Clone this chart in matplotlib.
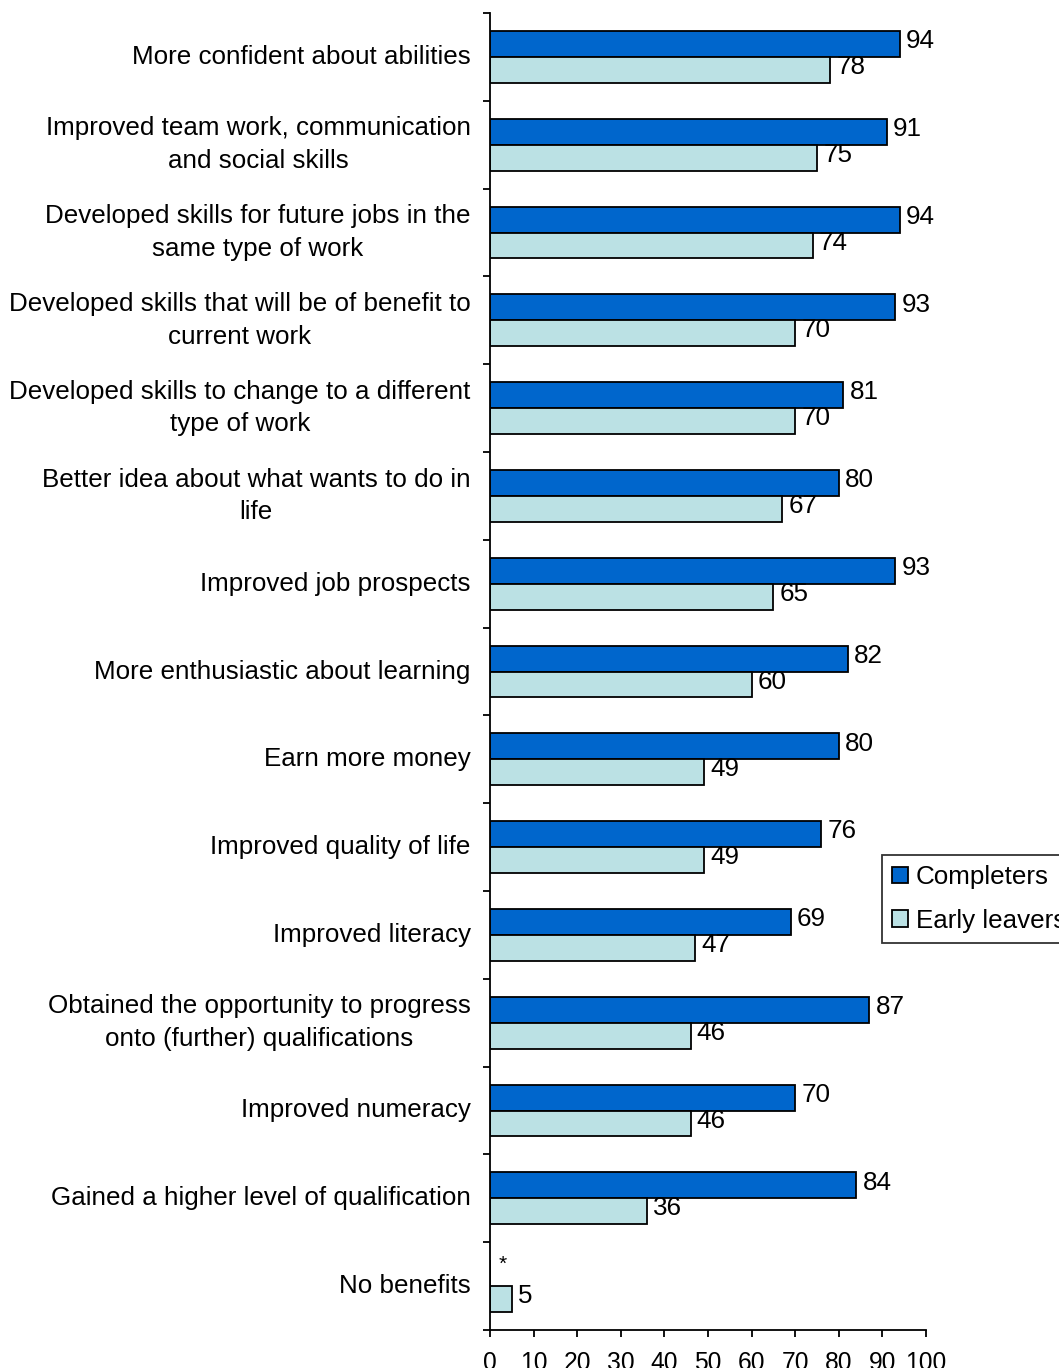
import matplotlib.pyplot as plt
import numpy as np

plt.rcParams['font.family'] = ['Liberation Sans', 'DejaVu Sans']

# Benefits reported by learners (%)
categories = [
    "More confident about abilities",
    "Improved team work, communication\nand social skills",
    "Developed skills for future jobs in the\nsame type of work",
    "Developed skills that will be of benefit to\ncurrent work",
    "Developed skills to change to a different\ntype of work",
    "Better idea about what wants to do in\nlife",
    "Improved job prospects",
    "More enthusiastic about learning",
    "Earn more money",
    "Improved quality of life",
    "Improved literacy",
    "Obtained the opportunity to progress\nonto (further) qualifications",
    "Improved numeracy",
    "Gained a higher level of qualification",
    "No benefits",
]
completers = [94, 91, 94, 93, 81, 80, 93, 82, 80, 76, 69, 87, 70, 84, 0]
early_leavers = [78, 75, 74, 70, 70, 67, 65, 60, 49, 49, 47, 46, 46, 36, 5]
completer_labels = ["94", "91", "94", "93", "81", "80", "93", "82", "80", "76", "69", "87", "70", "84", "*"]
leaver_labels = [str(v) for v in early_leavers]

blue = "#0066CC"
light = "#BBE1E4"
fs = 18.7

fig = plt.figure(figsize=(10.59, 13.68), dpi=100)
ax = fig.add_axes([490 / 1059, 1 - 1330 / 1368, 436 / 1059, 1317 / 1368])

n = len(categories)
y = np.arange(n)
h = 0.295

ax.barh(y - h / 2, completers, height=h, color=blue, edgecolor="black", linewidth=1.3, label="Completers")
ax.barh(y + h / 2, early_leavers, height=h, color=light, edgecolor="black", linewidth=1.3, label="Early leavers")

for i in range(n):
    if completer_labels[i] == "*":
        ax.annotate("*", (completers[i], y[i] - h / 2), xytext=(6, 6), textcoords="offset points",
                    ha="left", va="center", fontsize=15)
    else:
        ax.annotate(completer_labels[i], (completers[i], y[i] - h / 2), xytext=(4.5, 2),
                    textcoords="offset points", ha="left", va="center", fontsize=fs)
    ax.annotate(leaver_labels[i], (early_leavers[i], y[i] + h / 2), xytext=(4.5, 2),
                textcoords="offset points", ha="left", va="center", fontsize=fs)

ax.set_xlim(0, 100)
ax.set_ylim(n - 0.5, -0.5)
ax.set_xticks(np.arange(0, 101, 10))
ax.tick_params(axis="x", length=5, width=1.3, labelsize=fs - 1, pad=10)

# category names centred between the boundary ticks
ax.set_yticks(np.arange(-0.5, n, 1.0))
ax.set_yticklabels([])
ax.set_yticks(y, minor=True)
ax.set_yticklabels(categories, minor=True, fontsize=fs, ha="right", linespacing=1.45)
ax.tick_params(axis="y", which="major", length=5, width=1.3)
ax.tick_params(axis="y", which="minor", length=0, pad=14)
for lbl in ax.get_yticklabels(minor=True):
    lbl.set_multialignment("center")
    lbl.set_verticalalignment("center")

for side in ["top", "right"]:
    ax.spines[side].set_visible(False)
for side in ["left", "bottom"]:
    ax.spines[side].set_linewidth(1.3)

leg = fig.legend(loc="upper left", bbox_to_anchor=(882 / 1059, 1 - 855 / 1368), fontsize=fs,
                 frameon=True, fancybox=False, edgecolor="black", handlelength=0.6, handleheight=0.6,
                 handletextpad=0.3, borderpad=0.4, labelspacing=0.75, borderaxespad=0)
leg.get_frame().set_linewidth(1.3)

fig.savefig("out.png", dpi=100)
